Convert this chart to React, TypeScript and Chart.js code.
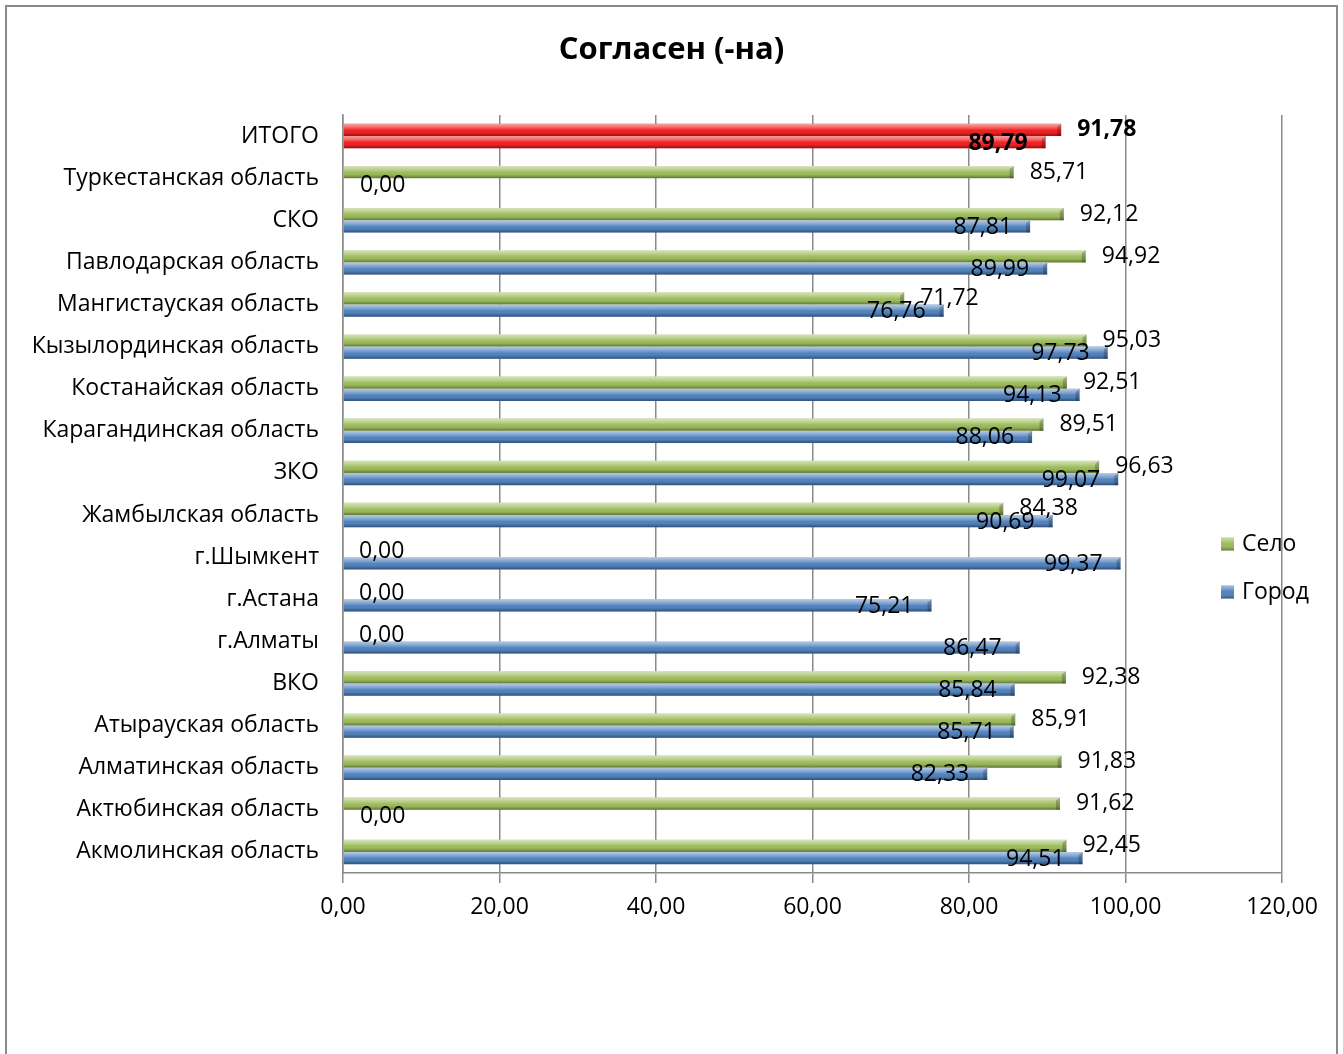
import React, { useEffect, useRef } from "react";
import { Chart, registerables } from "chart.js";

Chart.register(...registerables);

const chartTitle = "Согласен (-на)";
const categories = [
  "ИТОГО",
  "Туркестанская область",
  "СКО",
  "Павлодарская область",
  "Мангистауская область",
  "Кызылординская область",
  "Костанайская область",
  "Карагандинская область",
  "ЗКО",
  "Жамбылская область",
  "г.Шымкент",
  "г.Астана",
  "г.Алматы",
  "ВКО",
  "Атырауская область",
  "Алматинская область",
  "Актюбинская область",
  "Акмолинская область",
];
const seloValues = [91.78, 85.71, 92.12, 94.92, 71.72, 95.03, 92.51, 89.51, 96.63, 84.38, 0, 0, 0, 92.38, 85.91, 91.83, 91.62, 92.45];
const gorodValues = [89.79, 0, 87.81, 89.99, 76.76, 97.73, 94.13, 88.06, 99.07, 90.69, 99.37, 75.21, 86.47, 85.84, 85.71, 82.33, 0, 94.51];
const seriesNames = ["Село", "Город"];
const xMin = 0;
const xMax = 120;
const xStep = 20;

const FONT = "'Open Sans', 'Noto Sans', sans-serif";
const FS = 23;
const GREEN = "#9BBB59";
const BLUE = "#4F81BD";
const RED = "#F01E1E";

const fmt = (v: number) => v.toFixed(2).replace(".", ",");

const shadePlugin = {
  id: "shade",
  afterDatasetsDraw(chart: any) {
    const ctx = chart.ctx;
    ctx.save();
    chart.data.datasets.forEach((_: any, di: number) => {
      const meta = chart.getDatasetMeta(di);
      meta.data.forEach((el: any) => {
        const left = Math.min(el.x, el.base);
        const w = Math.abs(el.x - el.base);
        if (w < 0.5) return;
        const top = el.y - el.height / 2;
        const h = el.height;
        const g = ctx.createLinearGradient(0, top, 0, top + h);
        g.addColorStop(0, "rgba(255,255,255,0.6)");
        g.addColorStop(0.3, "rgba(255,255,255,0.3)");
        g.addColorStop(0.55, "rgba(255,255,255,0)");
        g.addColorStop(0.8, "rgba(0,0,0,0.12)");
        g.addColorStop(1, "rgba(0,0,0,0.38)");
        ctx.fillStyle = g;
        ctx.fillRect(left, top, w, h);
        // end bevel
        ctx.fillStyle = "rgba(0,0,0,0.22)";
        ctx.beginPath();
        ctx.moveTo(left + w, top);
        ctx.lineTo(left + w, top + h);
        ctx.lineTo(left + w - 4, top + h);
        ctx.lineTo(left + w - 4, top + 3);
        ctx.closePath();
        ctx.fill();
      });
    });
    ctx.restore();
  },
};

const labelPlugin = {
  id: "valueLabels",
  afterDatasetsDraw(chart: any) {
    const ctx = chart.ctx;
    ctx.save();
    ctx.fillStyle = "#000";
    ctx.textBaseline = "middle";
    chart.data.datasets.forEach((ds: any, di: number) => {
      const meta = chart.getDatasetMeta(di);
      meta.data.forEach((el: any, i: number) => {
        const text = fmt(ds.data[i]);
        ctx.font = (i === 0 ? "bold " : "") + FS + "px " + FONT;
        const tw = ctx.measureText(text).width;
        if (di === 0) {
          ctx.textAlign = "left";
          ctx.fillText(text, el.x + 16, el.y);
        } else {
          ctx.textAlign = "right";
          const x = Math.max(el.x - 18, el.base + 17 + tw);
          ctx.fillText(text, x, el.y + 1);
        }
      });
    });
    ctx.restore();
  },
};

const decorPlugin = {
  id: "decor",
  afterDraw(chart: any) {
    const ctx = chart.ctx;
    ctx.save();
    // title
    ctx.fillStyle = "#000";
    ctx.font = "bold 31px " + FONT;
    ctx.textAlign = "center";
    ctx.textBaseline = "middle";
    ctx.fillText(chartTitle, chart.width / 2, 50);
    // legend
    const items = [
      { name: seriesNames[0], color: GREEN, y: 544 },
      { name: seriesNames[1], color: BLUE, y: 592 },
    ];
    items.forEach((it) => {
      const sx = 1221;
      const s = 13;
      const sy = it.y - s / 2;
      ctx.fillStyle = it.color;
      ctx.fillRect(sx, sy, s, s);
      const g = ctx.createLinearGradient(0, sy, 0, sy + s);
      g.addColorStop(0, "rgba(255,255,255,0.5)");
      g.addColorStop(0.5, "rgba(255,255,255,0)");
      g.addColorStop(1, "rgba(0,0,0,0.35)");
      ctx.fillStyle = g;
      ctx.fillRect(sx, sy, s, s);
      ctx.fillStyle = "#000";
      ctx.font = FS + "px " + FONT;
      ctx.textAlign = "left";
      ctx.fillText(it.name, 1242, it.y);
    });
    ctx.restore();
  },
};

export default function App() {
  const ref = useRef<HTMLCanvasElement | null>(null);
  useEffect(() => {
    if (!ref.current) return;
    const chart = new Chart(ref.current, {
      type: "bar",
      data: {
        labels: categories,
        datasets: [
          {
            label: seriesNames[0],
            data: seloValues,
            backgroundColor: seloValues.map((_, i) => (i === 0 ? RED : GREEN)),
            borderWidth: 0,
            categoryPercentage: 0.58,
            barPercentage: 1,
          },
          {
            label: seriesNames[1],
            data: gorodValues,
            backgroundColor: gorodValues.map((_, i) => (i === 0 ? RED : BLUE)),
            borderWidth: 0,
            categoryPercentage: 0.58,
            barPercentage: 1,
          },
        ],
      },
      options: {
        indexAxis: "y",
        animation: false,
        responsive: true,
        maintainAspectRatio: false,
        layout: { padding: { top: 115, right: 61, left: 0, bottom: 0 } },
        plugins: {
          legend: { display: false },
          title: { display: false },
          tooltip: { enabled: false },
        },
        scales: {
          x: {
            min: xMin,
            max: xMax,
            ticks: {
              stepSize: xStep,
              color: "#000",
              font: { family: FONT, size: FS },
              padding: 11,
              callback: (v: any) => fmt(Number(v)),
            },
            grid: { color: "#8a8a8a", lineWidth: 1.5, tickLength: 10, drawTicks: true },
            border: { display: true, color: "#8a8a8a", width: 1.5 },
            afterFit: (scale: any) => {
              scale.height = 181;
            },
          },
          y: {
            ticks: {
              color: "#000",
              font: { family: FONT, size: FS },
              padding: 16,
              autoSkip: false,
            },
            grid: { display: false },
            border: { display: true, color: "#8a8a8a", width: 1.5 },
            afterFit: (scale: any) => {
              scale.width = 343;
            },
          },
        },
      },
      plugins: [shadePlugin, labelPlugin, decorPlugin],
    } as any);
    return () => chart.destroy();
  }, []);

  return (
    <div
      style={{
        position: "fixed",
        left: 0,
        top: 0,
        width: 1343,
        height: 1054,
        overflow: "hidden",
        background: "#fff",
      }}
    >
      <div
        style={{
          position: "absolute",
          left: 5,
          top: 5,
          width: 1333,
          height: 1200,
          border: "2px solid #8a8a8a",
          boxSizing: "border-box",
          pointerEvents: "none",
        }}
      />
      <div style={{ position: "absolute", left: 0, top: 0, width: 1343, height: 1054 }}>
        <canvas ref={ref} />
      </div>
    </div>
  );
}
